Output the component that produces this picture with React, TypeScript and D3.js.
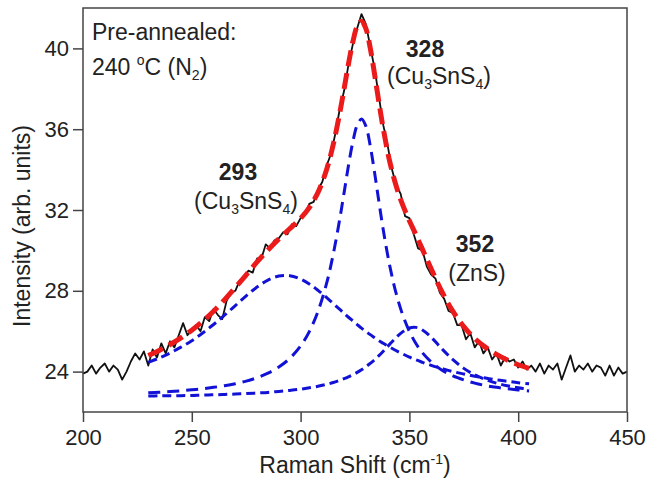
import React, { useEffect, useRef } from "react";
import * as d3 from "d3";

// measured spectrum, x = 200, 202, ... 450 (cm-1)
const rawStart = 200;
const rawStep = 2;
const rawIntensity = [
  23.9, 24.0, 24.3, 23.9, 24.2, 24.4, 24.0, 24.3, 24.1, 23.6, 24.0, 24.5, 24.9, 24.6, 25.0,
  24.3, 25.1, 24.7, 25.4, 24.9, 25.5, 25.2, 25.8, 26.4, 25.8,
  26.1, 26.3, 26.0, 26.7, 26.5, 27.1, 26.8, 26.6, 27.5, 27.9,
  28.0, 28.5, 28.6, 29.0, 28.9, 29.6, 29.6, 30.3, 30.1, 30.5,
  30.6, 30.9, 30.8, 31.3, 31.2, 31.6, 31.8, 32.3, 32.4, 33.0,
  33.4, 34.2, 34.8, 35.8, 37.0, 37.9, 39.2, 40.2, 41.0, 41.7,
  41.2, 40.1, 39.0, 37.6, 36.2, 35.2, 34.0, 33.2, 32.8, 31.7,
  31.6, 30.8, 30.1, 30.0, 29.2, 28.8, 28.6, 27.9, 27.6, 27.0,
  26.9, 26.3, 26.3, 25.6, 25.9, 25.2, 25.5, 24.9, 25.2, 24.6,
  24.9, 24.3, 24.7, 24.5, 24.6, 24.2, 24.5, 24.1, 24.3,
  24.0, 24.4, 23.9, 24.3, 24.1, 24.4, 23.6, 24.2, 24.8, 24.0, 24.3,
  24.1, 24.4, 24.0, 24.3, 24.2, 23.8, 24.3, 23.8, 24.2, 23.9, 24.0,
];

// fitted curves
const fitX = [
  230, 235, 240, 245, 250, 255, 260, 265, 270, 275, 280, 285, 290, 295, 300, 304, 308, 312, 315, 318,
  320, 322, 324, 326, 328, 330, 332, 334, 336, 338, 341, 344, 347, 350, 353, 356, 360, 365, 370, 375,
  380, 385, 390, 395, 400, 405,
];
const fitSum = [
  24.8, 25.05, 25.34, 25.67, 26.05, 26.49, 26.99, 27.55, 28.16, 28.79, 29.43, 30.02, 30.57, 31.07, 31.59,
  32.12, 32.87, 34.02, 35.24, 36.81, 38.0, 39.23, 40.32, 41.09, 41.35, 40.98, 40.02, 38.72, 37.33, 36.02,
  34.38, 33.16, 32.23, 31.47, 30.77, 30.05, 29.09, 27.94, 26.98, 26.23, 25.64, 25.2, 24.85, 24.57, 24.34,
  24.16,
];
const peak293 = [
  24.46, 24.67, 24.92, 25.21, 25.53, 25.91, 26.33, 26.79, 27.27, 27.75, 28.19, 28.53, 28.73, 28.75, 28.58,
  28.34, 28.02, 27.66, 27.37, 27.08, 26.88, 26.69, 26.51, 26.33, 26.15, 25.99, 25.83, 25.68, 25.53, 25.4,
  25.21, 25.03, 24.87, 24.72, 24.58, 24.46, 24.31, 24.15, 24.0, 23.88, 23.77, 23.68, 23.59, 23.52, 23.45,
  23.4,
];
const peak328 = [
  22.95, 22.98, 23.01, 23.05, 23.1, 23.15, 23.22, 23.3, 23.4, 23.53, 23.7, 23.92, 24.23, 24.65, 25.27,
  25.98, 26.98, 28.39, 29.81, 31.56, 32.87, 34.2, 35.37, 36.2, 36.5, 36.15, 35.18, 33.85, 32.4, 31.01,
  29.22, 27.83, 26.78, 25.99, 25.39, 24.93, 24.48, 24.07, 23.79, 23.59, 23.43, 23.31, 23.22, 23.15, 23.09,
  23.04,
];
const peak352 = [
  22.79, 22.8, 22.8, 22.81, 22.82, 22.84, 22.85, 22.87, 22.89, 22.91, 22.94, 22.97, 23.02, 23.07, 23.13,
  23.2, 23.27, 23.37, 23.46, 23.57, 23.65, 23.74, 23.84, 23.96, 24.09, 24.24, 24.41, 24.59, 24.79, 25.01,
  25.36, 25.7, 25.98, 26.16, 26.19, 26.06, 25.7, 25.12, 24.59, 24.16, 23.84, 23.61, 23.43, 23.3, 23.2,
  23.12,
];

const xTicks = [200, 250, 300, 350, 400, 450];
const yTicks = [24, 28, 32, 36, 40];

const W = 647;
const H = 480;
const FONT = "'Liberation Sans', Arial, sans-serif";

export default function App() {
  const svgRef = useRef<SVGSVGElement>(null);

  useEffect(() => {
    const svg = d3.select(svgRef.current);
    svg.selectAll("*").remove();

    const m = { left: 83, top: 8, right: 20, bottom: 68 };
    const x = d3.scaleLinear().domain([200, 450]).range([m.left, W - m.right]);
    const y = d3.scaleLinear().domain([22, 42]).range([H - m.bottom, m.top]);

    const line = d3
      .line<[number, number]>()
      .x((d) => x(d[0]))
      .y((d) => y(d[1]))
      .curve(d3.curveCatmullRom);

    // raw data
    const raw: [number, number][] = rawIntensity.map((v, i) => [rawStart + i * rawStep, v]);
    svg.append("path")
      .datum(raw)
      .attr("fill", "none")
      .attr("stroke", "#111")
      .attr("stroke-width", 1.8)
      .attr("stroke-linejoin", "round")
      .attr("d", d3.line<[number, number]>().x((d) => x(d[0])).y((d) => y(d[1])));

    // blue components
    [peak293, peak328, peak352].forEach((vals, k) => {
      svg.append("path")
        .datum(fitX.map((v, i) => [v, vals[i]] as [number, number]))
        .attr("fill", "none")
        .attr("stroke", "#1212d6")
        .attr("stroke-width", 3)
        .attr("stroke-dasharray", k === 1 ? "12,7" : "9,5")
        .attr("d", line);
    });

    // red sum
    svg.append("path")
      .datum(fitX.map((v, i) => [v, fitSum[i]] as [number, number]))
      .attr("fill", "none")
      .attr("stroke", "#ec1b1b")
      .attr("stroke-width", 5)
      .attr("stroke-dasharray", "16,7")
      .attr("d", line);

    // frame
    svg.append("rect")
      .attr("x", m.left)
      .attr("y", m.top)
      .attr("width", W - m.left - m.right)
      .attr("height", H - m.top - m.bottom)
      .attr("fill", "none")
      .attr("stroke", "#444")
      .attr("stroke-width", 1.5);

    // x axis
    const xAxis = svg.append("g").attr("transform", `translate(0,${H - m.bottom})`);
    xAxis.call(d3.axisBottom(x).tickValues(d3.range(225, 450, 50)).tickSize(5).tickFormat(() => ""));
    xAxis.call(d3.axisBottom(x).tickValues(xTicks).tickSize(10).tickPadding(7).tickFormat(d3.format("d")));
    xAxis.selectAll(".domain").remove();
    xAxis.selectAll("line").attr("stroke", "#444").attr("stroke-width", 1.5);
    xAxis.selectAll("text").attr("font-family", FONT).attr("font-size", 22).attr("fill", "#222");

    // y axis
    const yAxis = svg.append("g").attr("transform", `translate(${m.left},0)`);
    yAxis.call(d3.axisLeft(y).tickValues([26, 30, 34, 38]).tickSize(5).tickFormat(() => ""));
    yAxis.call(d3.axisLeft(y).tickValues(yTicks).tickSize(10).tickPadding(4).tickFormat(d3.format("d")));
    yAxis.selectAll(".domain").remove();
    yAxis.selectAll("line").attr("stroke", "#444").attr("stroke-width", 1.5);
    yAxis.selectAll("text").attr("font-family", FONT).attr("font-size", 22).attr("fill", "#222");

    const txt = (px: number, py: number, anchor = "start", size = 23, weight = "normal") =>
      svg.append("text")
        .attr("x", px)
        .attr("y", py)
        .attr("text-anchor", anchor)
        .attr("font-family", FONT)
        .attr("font-size", size)
        .attr("font-weight", weight)
        .attr("fill", "#222");

    // axis titles
    const xt = txt((m.left + W - m.right) / 2, 473, "middle", 23);
    xt.append("tspan").text("Raman Shift (cm");
    xt.append("tspan").attr("font-size", 14).attr("dy", -9).text("-1");
    xt.append("tspan").attr("dy", 9).text(")");

    svg.append("text")
      .attr("transform", `translate(30,${(m.top + H - m.bottom) / 2 + 16}) rotate(-90)`)
      .attr("text-anchor", "middle")
      .attr("font-family", FONT)
      .attr("font-size", 23)
      .attr("fill", "#222")
      .text("Intensity (arb. units)");

    // condition label
    txt(92, 40).text("Pre-annealed:");
    const t2 = txt(92, 75);
    t2.append("tspan").text("240 ");
    t2.append("tspan").attr("font-size", 14).attr("dy", -10).text("o");
    t2.append("tspan").attr("dy", 10).text("C (N");
    t2.append("tspan").attr("font-size", 14).attr("dy", 5).text("2");
    t2.append("tspan").attr("dy", -5).text(")");

    // peak labels
    const formula = (px: number, py: number) => {
      const t = txt(px, py, "middle");
      t.append("tspan").text("(Cu");
      t.append("tspan").attr("font-size", 14).attr("dy", 5).text("3");
      t.append("tspan").attr("dy", -5).text("SnS");
      t.append("tspan").attr("font-size", 14).attr("dy", 5).text("4");
      t.append("tspan").attr("dy", -5).text(")");
    };

    txt(238, 180, "middle", 23, "bold").text("293");
    formula(246, 209);
    txt(425, 57, "middle", 23, "bold").text("328");
    formula(439, 84);
    txt(475, 252, "middle", 23, "bold").text("352");
    txt(477, 281, "middle").text("(ZnS)");
  }, []);

  return (
    <svg
      ref={svgRef}
      width={W}
      height={H}
      style={{ position: "absolute", left: 0, top: 0, background: "#fff" }}
    ></svg>
  );
}
